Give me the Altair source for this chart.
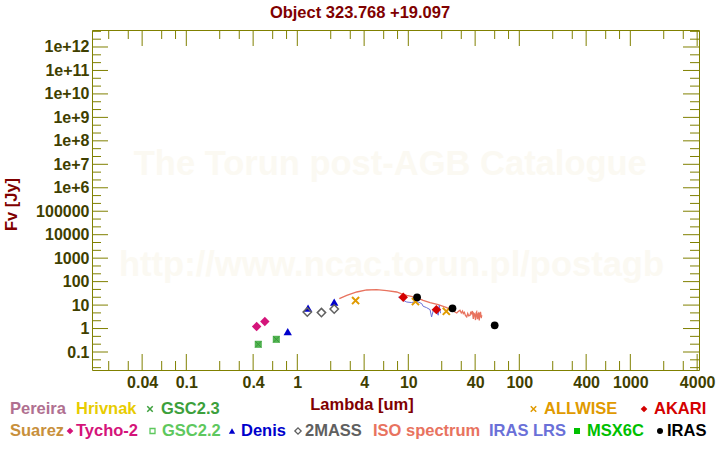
import altair as alt
import pandas as pd

# ---------------- data ----------------
title_text = "Object 323.768 +19.097"

tycho_lam = [0.43, 0.51]
tycho_flux = [1.21, 1.98]
gsc_lam = [0.445, 0.647]
gsc_flux = [0.213, 0.347]
denis_lam = [0.82, 1.25, 2.15]
denis_flux = [0.74, 7.5, 13.5]
mass_lam = [1.23, 1.65, 2.15]
mass_flux = [5.07, 4.78, 6.8]
wise_lam = [3.35, 11.6, 22.0]
wise_flux = [15.5, 14.1, 5.4]
akari_lam = [9.0, 17.9]
akari_flux = [21.5, 6.4]
iras_lam = [12.0, 25.0, 60.0]
iras_flux = [21.5, 7.3, 1.37]

iso_lam = [2.39, 2.79, 3.43, 4.22, 5.19, 6.39, 7.86, 8.6, 9.68, 11.9, 13.6, 15.7,
           18.6, 22.2, 25.4, 27.3, 28.3, 29.2, 30.0, 30.8, 31.3, 32.0, 32.7, 33.6,
           34.3, 35.0, 36.0, 36.6, 37.2, 37.8, 38.5, 39.0, 39.5, 40.0, 40.3, 40.8,
           41.3, 41.7, 42.0, 42.4, 42.8, 43.2, 43.6, 44.0, 44.3, 44.7, 45.0, 45.4,
           45.9]
iso_flux = [18.9, 26.1, 36.1, 44.0, 45.7, 41.4, 36.1, 31.0, 26.1, 20.8, 16.0, 12.8,
            10.5, 7.8, 5.6, 4.6, 5.4, 6.0, 4.6, 5.6, 4.3, 4.9, 3.6, 3.1,
            4.4, 3.5, 3.7, 5.3, 4.0, 5.6, 2.6, 4.5, 4.2, 3.0, 2.3, 4.6,
            5.1, 3.2, 2.5, 4.1, 4.4, 2.9, 2.2, 4.8, 3.1, 5.2, 4.0, 2.8,
            3.7]

lrs_lam = [8.13, 9.0, 9.68, 10.7, 11.9, 13.2, 13.6, 14.6, 15.7, 16.2, 16.8, 18.0,
           18.6, 19.0, 19.5]
lrs_flux = [22.1, 16.0, 13.5, 12.8, 14.5, 11.6, 8.9, 7.8, 6.4, 3.1, 6.0, 5.1,
            3.7, 9.8, 4.5]

x_major = [0.04, 0.1, 0.4, 1, 4, 10, 40, 100, 400, 1000, 4000]
x_minor = [0.02, 0.03, 0.06, 0.08, 0.2, 0.3, 0.6, 0.8, 2, 3, 6, 8, 20, 30, 60, 80,
           200, 300, 600, 800, 2000, 3000]
y_major = [0.1, 1, 10, 100, 1000, 1e4, 1e5, 1e6, 1e7, 1e8, 1e9, 1e10, 1e11, 1e12]
y_minor = [m * 10.0 ** k for k in range(-2, 13) for m in (2.154, 4.642)]

watermark = ["The Torun post-AGB Catalogue", "http://www.ncac.torun.pl/postagb"]

# legend entries: (label, colour, symbol)
legend_row1 = [("Pereira", "#b07090", None), ("Hrivnak", "#e8cc00", None),
               ("GSC2.3", "#3ca03c", "x"), ("ALLWISE", "#e09a00", "x"),
               ("AKARI", "#d40000", "diamond")]
legend_row2 = [("Suarez", "#c8903c", None), ("Tycho-2", "#d4147a", "diamond"),
               ("GSC2.2", "#5ec85e", "osquare"), ("Denis", "#0000cc", "triangle-up"),
               ("2MASS", "#606060", "odiamond"), ("ISO spectrum", "#e8735f", None),
               ("IRAS LRS", "#6a70d8", None), ("MSX6C", "#00c000", "square"),
               ("IRAS", "#000000", "circle")]

# ---------------- layout ----------------
W, H = 607, 340
PAD_L, PAD_T = 92, 30
FONT = "Liberation Sans"
OLIVE = "#808000"
LABEL_C = "#3f3f00"
DARKRED = "#800000"
XPATH = "M-1,-1L1,1M-1,1L1,-1"

# text-left x positions (page px) for the legend, and symbol x positions
row1_x = [10, 76, 161, 544, 654]
row1_sym = [None, None, 150, 533.5, 644]
row2_x = [10, 76, 162, 241, 305, 373, 489, 587, 667]
row2_sym = [None, 70, 152.5, 232, 298, None, None, 577, 660]
row1_y, row2_y = 409, 431

xs = alt.Scale(type="log", domain=[0.01414, 4157], nice=False)
ys = alt.Scale(type="log", domain=[0.0171, 5.3e12], nice=False)

x_axis = alt.Axis(
    values=x_major, labelExpr="format(datum.value, '~g')",
    ticks=False, tickSize=0, domain=False, grid=False,
    labelPadding=12, labelBaseline="middle", labelFont=FONT, labelFontSize=16,
    labelFontWeight="bold", labelColor=LABEL_C, labelOverlap=False, labelFlush=False,
    title="Lambda [um]", titleX=269.5, titleY=34, titleAlign="center",
    titleBaseline="middle", titleFont=FONT, titleFontSize=16.5,
    titleFontWeight="bold", titleColor=DARKRED,
)
y_axis = alt.Axis(
    values=y_major,
    labelExpr="datum.value >= 1e6 ? '1e+' + format(log(datum.value)/LN10, '.0f') : format(datum.value, '~g')",
    ticks=False, tickSize=0, domain=False, grid=False,
    labelPadding=3, labelAlign="right", labelBaseline="middle", labelFont=FONT,
    labelFontSize=16, labelFontWeight="bold", labelColor=LABEL_C, labelOverlap=False,
    labelFlush=False,
    title="Fv [Jy]", titleX=-81, titleY=174, titleAngle=270, titleAlign="center",
    titleBaseline="middle", titleFont=FONT, titleFontSize=16.5,
    titleFontWeight="bold", titleColor=DARKRED,
)

X = alt.X("lam:Q", scale=xs, axis=x_axis)
Y = alt.Y("flux:Q", scale=ys, axis=y_axis)


def df(lam, flux):
    return pd.DataFrame({"lam": lam, "flux": flux})


def one(text):
    return pd.DataFrame({"t": [text]})


layers = []

# watermark
wm_pos = [(298.3, 145), (299.5, 245.5)]
for txt, (wx, wy) in zip(watermark, wm_pos):
    layers.append(
        alt.Chart(one(txt)).mark_text(
            font=FONT, fontSize=34.5, fontWeight="bold", color="#fbf9f2",
            align="center", baseline="alphabetic",
        ).encode(text="t:N", x=alt.value(wx), y=alt.value(wy))
    )

# spectra
layers.append(alt.Chart(df(iso_lam, iso_flux)).mark_line(color="#e8735f", strokeWidth=1.3)
              .encode(x=X, y=Y))
layers.append(alt.Chart(df(lrs_lam, lrs_flux)).mark_line(color="#6a70d8", strokeWidth=1)
              .encode(x=X, y=Y))

# photometry
layers.append(alt.Chart(df(gsc_lam, gsc_flux)).mark_point(
    shape="square", filled=True, color="#52b452", size=50, opacity=1).encode(x=X, y=Y))
layers.append(alt.Chart(df(gsc_lam, gsc_flux)).mark_point(
    shape=XPATH, filled=False, color="#3a9a3a", size=36, strokeWidth=1, opacity=1).encode(x=X, y=Y))
layers.append(alt.Chart(df(tycho_lam, tycho_flux)).mark_point(
    shape="diamond", filled=True, color="#d4147a", size=90, opacity=1).encode(x=X, y=Y))
layers.append(alt.Chart(df(denis_lam, denis_flux)).mark_point(
    shape="triangle-up", filled=True, color="#0000cc", size=70, opacity=1).encode(x=X, y=Y))
layers.append(alt.Chart(df(mass_lam, mass_flux)).mark_point(
    shape="diamond", filled=False, color="#606060", size=70, strokeWidth=1.5, opacity=1).encode(x=X, y=Y))
layers.append(alt.Chart(df(wise_lam, wise_flux)).mark_point(
    shape=XPATH, filled=False, color="#e09a00", size=50, strokeWidth=2, opacity=1).encode(x=X, y=Y))
layers.append(alt.Chart(df(akari_lam, akari_flux)).mark_point(
    shape="diamond", filled=True, color="#d40000", size=90, opacity=1).encode(x=X, y=Y))
layers.append(alt.Chart(df(iras_lam, iras_flux)).mark_point(
    shape="circle", filled=True, color="#000000", size=60, opacity=1).encode(x=X, y=Y))

# inward ticks (top, bottom, left, right)
for vals, ln in ((x_major, 16), (x_minor, 9)):
    d = pd.DataFrame({"lam": vals})
    layers.append(alt.Chart(d).mark_rule(color=OLIVE, strokeWidth=1)
                  .encode(x=X, y=alt.value(0), y2=alt.value(ln)))
    layers.append(alt.Chart(d).mark_rule(color=OLIVE, strokeWidth=1)
                  .encode(x=X, y=alt.value(H), y2=alt.value(H - ln)))
for vals, ln in ((y_major, 16), (y_minor, 9)):
    d = pd.DataFrame({"flux": vals})
    layers.append(alt.Chart(d).mark_rule(color=OLIVE, strokeWidth=1)
                  .encode(y=Y, x=alt.value(0), x2=alt.value(ln)))
    layers.append(alt.Chart(d).mark_rule(color=OLIVE, strokeWidth=1)
                  .encode(y=Y, x=alt.value(W), x2=alt.value(W - ln)))

# title
layers.append(alt.Chart(one(title_text)).mark_text(
    font=FONT, fontSize=16.5, fontWeight="bold", color=DARKRED,
    align="center", baseline="middle").encode(
    text="t:N", x=alt.value(360 - PAD_L), y=alt.value(13 - PAD_T)))


# legend
def sym_layer(kind, color, sx, sy):
    if kind == "x":
        m = dict(shape=XPATH, filled=False, strokeWidth=1.5, size=30)
    elif kind == "diamond":
        m = dict(shape="diamond", filled=True, size=45)
    elif kind == "odiamond":
        m = dict(shape="diamond", filled=False, strokeWidth=1.3, size=40)
    elif kind == "osquare":
        m = dict(shape="square", filled=False, strokeWidth=1.3, size=25)
    elif kind == "square":
        m = dict(shape="square", filled=True, size=36)
    elif kind == "triangle-up":
        m = dict(shape="triangle-up", filled=True, size=40)
    else:
        m = dict(shape="circle", filled=True, size=36)
    return alt.Chart(one(kind)).mark_point(color=color, opacity=1, **m).encode(
        x=alt.value(sx - PAD_L), y=alt.value(sy - PAD_T))


for items, xs_txt, xs_sym, ry in ((legend_row1, row1_x, row1_sym, row1_y),
                                  (legend_row2, row2_x, row2_sym, row2_y)):
    for (lab, col, sym), tx, sx in zip(items, xs_txt, xs_sym):
        layers.append(alt.Chart(one(lab)).mark_text(
            font=FONT, fontSize=16.5, fontWeight="bold", color=col,
            align="left", baseline="middle").encode(
            text="t:N", x=alt.value(tx - PAD_L), y=alt.value(ry - PAD_T)))
        if sym is not None:
            layers.append(sym_layer(sym, col, sx, ry))

chart = alt.layer(*layers).properties(
    width=W, height=H,
    autosize=alt.AutoSizeParams(type="none"),
    padding={"left": PAD_L, "top": PAD_T, "right": 720 - PAD_L - W, "bottom": 450 - PAD_T - H},
    background="white",
).configure_view(stroke=OLIVE, strokeWidth=1)

chart.save("out.html", embed_options={"renderer": "svg", "actions": False})
